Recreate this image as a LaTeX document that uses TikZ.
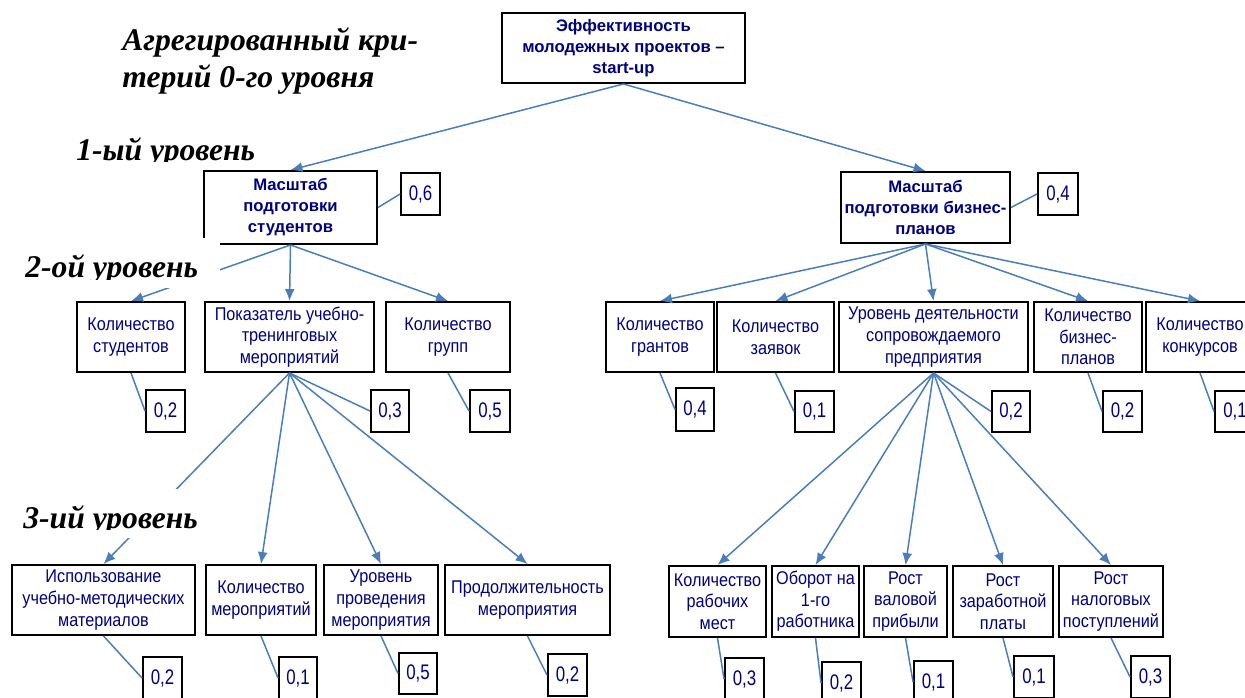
\documentclass[tikz,border=0pt]{standalone}
\usepackage{fontspec}
\setmainfont{Liberation Sans}
\newfontfamily\narrowsans{Liberation Sans}[FakeStretch=0.88]
\newfontfamily\numsans{Liberation Sans}[FakeStretch=0.8]
\newfontfamily\levelfont{Liberation Serif}
\usetikzlibrary{arrows.meta}
\definecolor{navytext}{RGB}{0,0,128}
\definecolor{linkblue}{RGB}{74,126,187}
\newdimen\pxu \pxu=0.02cm
\tikzset{
  crit/.style={rectangle, draw=black, line width=1.1pt, fill=white, align=center,
    text=navytext, inner sep=0.5pt, font=\narrowsans\fontsize{10.5}{12.3}\selectfont},
  critb/.style={crit, font=\bfseries\fontsize{9.5}{12}\selectfont},
  wbox/.style={rectangle, draw=black, line width=1.1pt, fill=white, text=navytext,
    inner sep=0pt, font=\numsans\fontsize{12}{14}\selectfont},
  conn/.style={-{Latex[length=2.4mm,width=2mm]}, draw=linkblue, line width=0.85pt},
  wlink/.style={draw=linkblue, line width=0.85pt},
  level/.style={font=\levelfont\bfseries\itshape\fontsize{18}{21}\selectfont,
    inner sep=0pt, align=left},
}

\begin{document}
\begin{tikzpicture}[x=0.02cm, y=-0.02cm]
  \useasboundingbox (0,0) rectangle (1245,697);
  % level 0
  \node[critb, minimum width=243\pxu, minimum height=70\pxu] (top) at (623.5,48)
    {Эффективность\\молодежных проектов –\\start-up};
  % level 1
  \node[critb, minimum width=173\pxu, minimum height=73\pxu] (mstud) at (290.5,207.5)
    {Масштаб\\подготовки\\студентов};
  \node[critb, minimum width=169\pxu, minimum height=71\pxu] (mbiz) at (925.5,207.5)
    {Масштаб\\подготовки бизнес-\\планов};
  \node[wbox, minimum width=39\pxu, minimum height=42\pxu] (w06) at (420.5,194) {0,6};
  \node[wbox, minimum width=40\pxu, minimum height=42\pxu] (w04) at (1058,194) {0,4};
  % level 2, students
  \node[crit, minimum width=108\pxu, minimum height=70\pxu] (kstud) at (131,337) {Количество\\студентов};
  \node[crit, minimum width=169\pxu, minimum height=70\pxu] (pokaz) at (289.5,337) {Показатель учебно-\\тренинговых\\мероприятий};
  \node[crit, minimum width=124\pxu, minimum height=70\pxu] (kgrupp) at (448,337) {Количество\\групп};
  \node[wbox, minimum width=39\pxu, minimum height=42\pxu] (w-kstud) at (165.5,411) {0,2};
  \node[wbox, minimum width=38\pxu, minimum height=42\pxu] (w-pokaz) at (390,411) {0,3};
  \node[wbox, minimum width=40\pxu, minimum height=42\pxu] (w-kgrupp) at (490,411) {0,5};
  % level 2, business plans
  \node[crit, minimum width=108\pxu, minimum height=70\pxu] (kgrant) at (660,337) {Количество\\грантов};
  \node[crit, minimum width=117\pxu, minimum height=70\pxu] (kzayav) at (775.5,337) {Количество\\заявок};
  \node[crit, minimum width=189\pxu, minimum height=70\pxu] (urdeyat) at (933.5,337) {Уровень деятельности\\сопровождаемого\\предприятия};
  \node[crit, minimum width=108\pxu, minimum height=70\pxu] (kbiz) at (1088,337) {Количество\\бизнес-\\планов};
  \node[crit, minimum width=108\pxu, minimum height=70\pxu] (kkonk) at (1200,337) {Количество\\конкурсов};
  \node[wbox, minimum width=38\pxu, minimum height=43\pxu] (w-kgrant) at (695,409.5) {0,4};
  \node[wbox, minimum width=39\pxu, minimum height=41\pxu] (w-kzayav) at (814.5,411.5) {0,1};
  \node[wbox, minimum width=38\pxu, minimum height=41\pxu] (w-urdeyat) at (1011,411.5) {0,2};
  \node[wbox, minimum width=39\pxu, minimum height=41\pxu] (w-kbiz) at (1122.5,411.5) {0,2};
  \node[wbox, minimum width=40\pxu, minimum height=41\pxu] (w-kkonk) at (1235,411.5) {0,1};
  % level 3, training events
  \node[crit, minimum width=183\pxu, minimum height=70\pxu] (ispolz) at (103.5,600) {Использование\\учебно-методических\\материалов};
  \node[crit, minimum width=110\pxu, minimum height=70\pxu] (kmer) at (261,600) {Количество\\мероприятий};
  \node[crit, minimum width=114\pxu, minimum height=70\pxu] (urprov) at (381,600) {Уровень\\проведения\\мероприятия};
  \node[crit, minimum width=165\pxu, minimum height=70\pxu] (prodolzh) at (527.5,600) {Продолжительность\\мероприятия};
  \node[wbox, minimum width=39\pxu, minimum height=42\pxu] (w-ispolz) at (162.5,678) {0,2};
  \node[wbox, minimum width=38\pxu, minimum height=42\pxu] (w-kmer) at (298,678) {0,1};
  \node[wbox, minimum width=38\pxu, minimum height=41\pxu] (w-urprov) at (418,673.5) {0,5};
  \node[wbox, minimum width=39\pxu, minimum height=42\pxu] (w-prodolzh) at (567.5,675) {0,2};
  % level 3, enterprise
  \node[crit, minimum width=97\pxu, minimum height=71\pxu] (krab) at (717.5,601.5) {Количество\\рабочих\\мест};
  \node[crit, minimum width=87\pxu, minimum height=71\pxu] (oborot) at (815.5,601.5) {Оборот на\\1-го\\работника};
  \node[crit, minimum width=83\pxu, minimum height=71\pxu] (rval) at (905.5,601.5) {Рост\\валовой\\прибыли};
  \node[crit, minimum width=100\pxu, minimum height=71\pxu] (rzarp) at (1003,601.5) {Рост\\заработной\\платы};
  \node[crit, minimum width=104\pxu, minimum height=71\pxu] (rnalog) at (1111,601.5) {Рост\\налоговых\\поступлений};
  \node[wbox, minimum width=39\pxu, minimum height=42\pxu] (w-krab) at (744.5,679) {0,3};
  \node[wbox, minimum width=39\pxu, minimum height=42\pxu] (w-oborot) at (841.5,683) {0,2};
  \node[wbox, minimum width=39\pxu, minimum height=42\pxu] (w-rval) at (933.5,682) {0,1};
  \node[wbox, minimum width=40\pxu, minimum height=42\pxu] (w-rzarp) at (1034,677) {0,1};
  \node[wbox, minimum width=39\pxu, minimum height=42\pxu] (w-rnalog) at (1150.5,677) {0,3};

  % arrows
  \draw[conn] (top.south) -- (mstud.north);
  \draw[conn] (top.south) -- (mbiz.north);
  \foreach \c in {kstud,pokaz,kgrupp} \draw[conn] (mstud.south) -- (\c.north);
  \foreach \c in {kgrant,kzayav,urdeyat,kbiz,kkonk} \draw[conn] (mbiz.south) -- (\c.north);
  \foreach \c in {ispolz,kmer,urprov,prodolzh} \draw[conn] (pokaz.south) -- (\c.north);
  \foreach \c in {krab,oborot,rval,rzarp,rnalog} \draw[conn] (urdeyat.south) -- (\c.north);
  % weight links
  \draw[wlink] (mstud.east) -- (w06.west);
  \draw[wlink] (mbiz.east) -- (w04.west);
  \foreach \c in {kstud,pokaz,kgrupp,kgrant,kzayav,urdeyat,kbiz,kkonk,
                  ispolz,kmer,urprov,prodolzh,krab,oborot,rval,rzarp,rnalog}
    \draw[wlink] (\c.south) -- (w-\c.west);

  % level captions
  \node[level, anchor=base west] (lv0) at (122,87) {Агрегированный кри-\\терий 0-го уровня};
  \begin{scope}
    \clip (60,120) rectangle (280,161);
    \node[level, anchor=base west] (lv1) at (76,160) {1-ый уровень};
  \end{scope}
  \fill[white] (20,238) rectangle (220,288);
  \begin{scope}
    \clip (20,238) rectangle (220,279);
    \node[level, anchor=base west] (lv2) at (25,277) {2-ой уровень};
  \end{scope}
  \fill[white] (18,489) rectangle (205,538);
  \begin{scope}
    \clip (18,489) rectangle (205,529);
    \node[level, anchor=base west] (lv3) at (23,528) {3-ий уровень};
  \end{scope}
\end{tikzpicture}
\end{document}
